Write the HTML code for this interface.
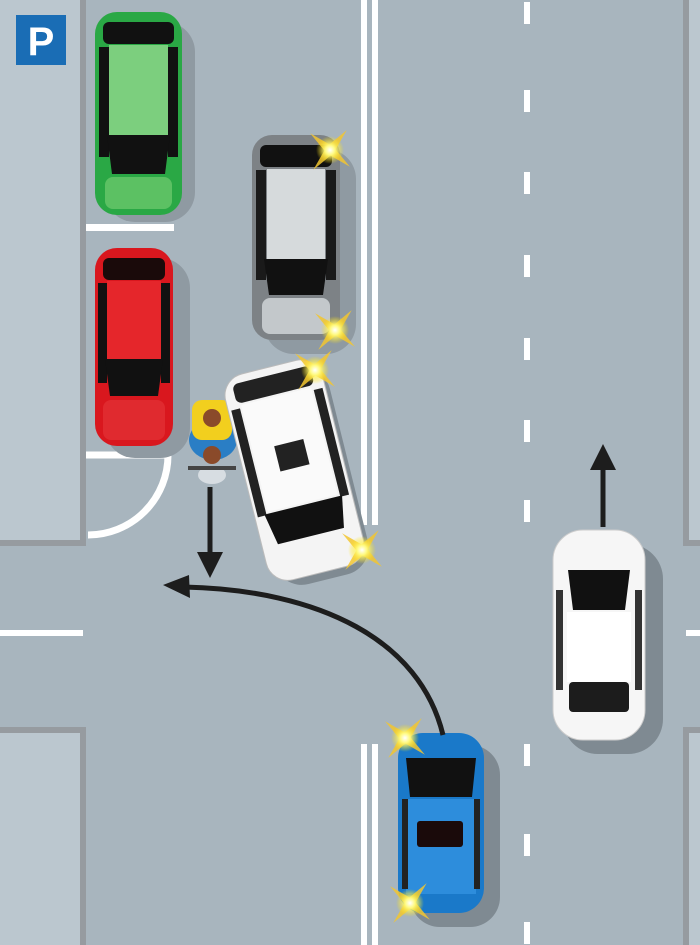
<!DOCTYPE html>
<html><head><meta charset="utf-8"><style>html,body{margin:0;padding:0}svg{display:block}</style></head><body>
<svg width="700" height="945" viewBox="0 0 700 945" xmlns="http://www.w3.org/2000/svg">
<defs>
<radialGradient id="glow"><stop offset="0" stop-color="#fff"/><stop offset="0.35" stop-color="#fffa80"/><stop offset="1" stop-color="#ffe000" stop-opacity="0"/></radialGradient>
<g id="star">
<path d="M0,-26 L4,-4 L26,0 L4,4 L0,26 L-4,4 L-26,0 L-4,-4 Z" fill="#f2c530" opacity="0.85" transform="rotate(40)"/>
<circle r="14" fill="url(#glow)"/>
</g>
</defs>
<rect width="700" height="945" fill="#a8b5be"/>
<rect x="0" y="0" width="83" height="543" fill="#bbc7cf"/>
<path d="M83,0 V543 H0" fill="none" stroke="#969ba0" stroke-width="6"/>
<rect x="0" y="730" width="83" height="215" fill="#bbc7cf"/>
<path d="M0,730 H83 V945" fill="none" stroke="#969ba0" stroke-width="6"/>
<rect x="686" y="0" width="14" height="543" fill="#bbc7cf"/>
<path d="M700,543 H686 V0" fill="none" stroke="#969ba0" stroke-width="6"/>
<rect x="686" y="730" width="14" height="215" fill="#bbc7cf"/>
<path d="M700,730 H686 V945" fill="none" stroke="#969ba0" stroke-width="6"/>
<g fill="#fff">
<rect x="361" y="0" width="6" height="525"/><rect x="372" y="0" width="6" height="525"/>
<rect x="361" y="744" width="6" height="201"/><rect x="372" y="744" width="6" height="201"/>
<rect x="524" y="2" width="6" height="22"/><rect x="524" y="90" width="6" height="22"/>
<rect x="524" y="172" width="6" height="22"/><rect x="524" y="255" width="6" height="22"/>
<rect x="524" y="338" width="6" height="22"/><rect x="524" y="420" width="6" height="22"/>
<rect x="524" y="500" width="6" height="22"/>
<rect x="524" y="744" width="6" height="22"/><rect x="524" y="834" width="6" height="22"/><rect x="524" y="922" width="6" height="22"/>
<rect x="0" y="630" width="83" height="6"/><rect x="686" y="630" width="14" height="6"/>
<rect x="86" y="224" width="88" height="7"/>
</g>
<path d="M86,455 H168 A80,80 0 0 1 88,535" fill="none" stroke="#fff" stroke-width="7"/>
<rect x="16" y="15" width="50" height="50" fill="#1a6db5"/>
<text x="41" y="55" font-family="Liberation Sans, sans-serif" font-size="40" font-weight="bold" fill="#fff" text-anchor="middle">P</text>

<g transform="translate(95,12)">
<rect x="10" y="10" width="90" height="200" rx="30" fill="#8f9aa2"/>
<rect width="87" height="203" rx="22" fill="#2aa845"/>
<rect x="8" y="10" width="71" height="22" rx="6" fill="#111"/>
<rect x="4" y="35" width="10" height="110" fill="#111"/><rect x="73" y="35" width="10" height="110" fill="#111"/>
<rect x="14" y="33" width="59" height="90" fill="#7ccf7e"/>
<path d="M12,123 H75 L70,162 H17 Z" fill="#111"/>
<rect x="10" y="165" width="67" height="32" rx="8" fill="#5cc163"/>
</g>
<g transform="translate(252,135)">
<rect x="12" y="14" width="92" height="205" rx="30" fill="#8f9aa2"/>
<rect width="88" height="205" rx="20" fill="#7d8286"/>
<rect x="8" y="10" width="72" height="22" rx="6" fill="#111"/>
<rect x="4" y="35" width="10" height="110" fill="#1a1a1a"/><rect x="74" y="35" width="10" height="110" fill="#1a1a1a"/>
<rect x="15" y="34" width="58" height="90" fill="#d6dadc"/>
<path d="M12,124 H76 L71,160 H17 Z" fill="#111"/>
<rect x="10" y="163" width="68" height="36" rx="8" fill="#c3c8cb"/>
</g>
<g transform="translate(95,248)">
<rect x="10" y="10" width="85" height="200" rx="30" fill="#8f9aa2"/>
<rect width="78" height="198" rx="22" fill="#d9171e"/>
<rect x="8" y="10" width="62" height="22" rx="6" fill="#1a0a0a"/>
<rect x="3" y="35" width="9" height="100" fill="#111"/><rect x="66" y="35" width="9" height="100" fill="#111"/>
<rect x="12" y="33" width="54" height="78" fill="#e5262b"/>
<path d="M10,111 H68 L63,148 H15 Z" fill="#111"/>
<rect x="8" y="152" width="62" height="40" rx="8" fill="#e02a2f"/>
</g>
<g>
<ellipse cx="213" cy="440" rx="24" ry="20" fill="#2a7ec5"/>
<rect x="192" y="400" width="40" height="40" rx="10" fill="#f2cf1e"/>
<circle cx="212" cy="418" r="9" fill="#8a4a2a"/>
<circle cx="212" cy="455" r="9" fill="#8a4a2a"/>
<ellipse cx="212" cy="475" rx="14" ry="9" fill="#d7dde2"/>
<rect x="188" y="466" width="48" height="4" fill="#444"/>
</g>
<g transform="translate(295,472) rotate(-14)">
<rect x="-42" y="-100" width="96" height="212" rx="28" fill="#7f8a92"/>
<rect x="-50" y="-108" width="100" height="212" rx="22" fill="#f4f4f4" stroke="#bbb"/>
<rect x="-40" y="-100" width="80" height="20" rx="6" fill="#222"/>
<rect x="-47" y="-75" width="9" height="110" fill="#222"/><rect x="38" y="-75" width="9" height="110" fill="#222"/>
<rect x="-36" y="-78" width="72" height="110" fill="#fafafa"/>
<rect x="-14" y="-30" width="30" height="26" fill="#222"/>
<path d="M-40,34 H40 L34,66 H-34 Z" fill="#111"/>
</g>
<g transform="translate(553,530)">
<rect x="10" y="14" width="100" height="210" rx="35" fill="#7f8a92"/>
<rect width="92" height="210" rx="30" fill="#f6f6f6" stroke="#ccc"/>
<path d="M15,40 H77 L72,80 H20 Z" fill="#111"/>
<rect x="14" y="82" width="64" height="70" fill="#fff"/>
<rect x="16" y="152" width="60" height="30" rx="4" fill="#1c1c1c"/>
<rect x="3" y="60" width="7" height="100" fill="#333"/><rect x="82" y="60" width="7" height="100" fill="#333"/>
</g>
<g transform="translate(398,733)">
<rect x="12" y="12" width="90" height="182" rx="30" fill="#7f8a92"/>
<rect width="86" height="180" rx="25" fill="#1a79c9"/>
<path d="M8,25 H78 L74,64 H12 Z" fill="#111"/>
<rect x="8" y="66" width="70" height="95" fill="#2d8ddc"/>
<rect x="19" y="88" width="46" height="26" rx="3" fill="#1a0a0a"/>
<rect x="4" y="66" width="6" height="90" fill="#222"/><rect x="76" y="66" width="6" height="90" fill="#222"/>
</g>
<g fill="#1d1d1d" stroke="#1d1d1d">
<line x1="210" y1="487" x2="210" y2="556" stroke-width="5"/>
<path d="M197,552 L210,578 L223,552 Z" stroke="none"/>
<line x1="603" y1="527" x2="603" y2="466" stroke-width="5"/>
<path d="M590,470 L603,444 L616,470 Z" stroke="none"/>
<path d="M443,735 C420,640 320,590 184,587" fill="none" stroke-width="5"/>
<path d="M189,575 L163,585 L190,598 Z" stroke="none"/>
</g>
<use href="#star" x="330" y="150"/>
<use href="#star" x="335" y="330"/>
<use href="#star" x="315" y="370"/>
<use href="#star" x="362" y="550"/>
<use href="#star" x="405" y="738"/>
<use href="#star" x="410" y="903"/>
</svg>
</body></html>
